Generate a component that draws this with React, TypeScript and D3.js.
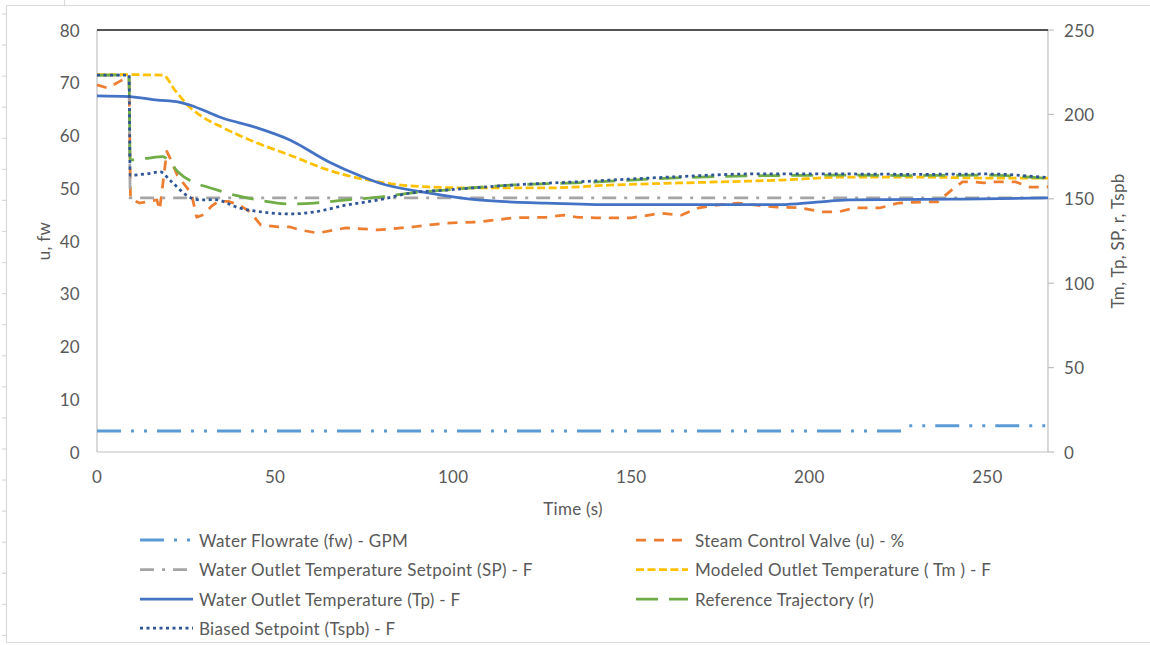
import React from "react";
import * as d3 from "d3";

// Time axis ticks and the two value axes
const X_TICKS = [0, 50, 100, 150, 200, 250];
const LEFT_TICKS = [0, 10, 20, 30, 40, 50, 60, 70, 80];
const RIGHT_TICKS = [0, 50, 100, 150, 200, 250];

// Water flowrate (left axis)
const FW_T = [0, 226, 228, 267];
const FW = [4, 4, 5, 5];

// Steam control valve, % (left axis)
const U_T = [0, 3, 7, 9, 9.4, 12, 16.8, 17.6, 19.6, 21, 22.5, 26.5, 28, 30, 32, 34, 37, 40, 43, 46, 51, 54, 57, 62, 70, 79, 89, 98, 107, 117, 126, 131, 135, 140, 150, 155, 158, 164, 169, 174, 180, 185, 191, 197, 204, 208, 213, 220, 225, 232, 236, 240, 243, 246, 249, 251, 254, 258, 262, 265, 267];
const U = [69.6, 69, 70.5, 71, 48, 47.2, 47.8, 45.9, 57, 55, 52.5, 49, 44.5, 45, 46.5, 47.5, 47.5, 46.8, 45.5, 43, 42.7, 42.7, 42.1, 41.5, 42.5, 42.1, 42.7, 43.4, 43.6, 44.4, 44.5, 44.9, 44.5, 44.4, 44.4, 44.9, 45.3, 44.9, 46.3, 46.8, 47.2, 46.8, 46.4, 46.3, 45.5, 45.5, 46.3, 46.3, 47.2, 47.4, 47.4, 49.7, 51.2, 51.2, 51, 51.2, 51.2, 51.2, 50.2, 50.2, 50.3];

// Water outlet temperature setpoint (right axis)
const SP_T = [0, 9, 9.3, 267];
const SP = [223.3, 223.3, 150.5, 150.5];

// Modeled outlet temperature (right axis)
const TM_T = [0, 10, 18.5, 22, 26, 30, 35, 40, 45, 54, 65, 79, 93, 107, 126, 145, 164, 192, 211, 230, 250, 267];
const TM = [223.5, 223.5, 223.3, 214, 204.4, 198, 192.5, 187.5, 183, 176, 167, 160, 157, 156.4, 156.4, 158.2, 159.4, 161.1, 162.9, 162.9, 162.3, 162.3];

// Water outlet temperature (right axis)
const TP_T = [0, 9, 17, 23, 26, 35, 45, 54, 65, 74, 79, 93, 107, 126, 145, 164, 192, 202, 211, 240, 267];
const TP = [211, 210.5, 208.5, 207.3, 205.6, 198, 192, 185, 172, 163.5, 159.5, 153.5, 149.3, 147.5, 146.5, 146.5, 146.5, 148, 149.3, 149.8, 150.5];

// Reference trajectory (right axis)
const R_T = [0, 9, 9.3, 14, 18.5, 20, 22.7, 28, 31, 39, 46, 54, 61, 70, 79, 88, 98, 117, 136, 164, 192, 211, 230, 250, 267];
const R = [223.3, 223.3, 173, 174, 175, 173, 166, 159, 157, 152, 149, 147, 147.5, 149.3, 151, 153.4, 155.2, 158.2, 159.6, 162.5, 163.8, 164, 163.8, 164, 162];

// Biased setpoint (right axis)
const SB_T = [0, 9, 9.3, 14, 17.8, 20.5, 26, 29, 33, 40, 47, 54, 61, 70, 79, 88, 98, 117, 136, 164, 183, 211, 230, 250, 267];
const SB = [223.3, 223.3, 164, 164.8, 165.9, 161, 151, 149.3, 149.5, 144.5, 142, 141, 142.2, 146.3, 149.3, 153.4, 155.2, 158.2, 160.2, 163.2, 164.7, 164.7, 164.5, 164.7, 162.5];

const LEGEND_LABELS = [
  "Water Flowrate (fw) - GPM",
  "Steam Control Valve (u) - %",
  "Water Outlet Temperature Setpoint (SP) - F",
  "Modeled Outlet Temperature ( Tm ) - F",
  "Water Outlet Temperature (Tp) - F",
  "Reference Trajectory (r)",
  "Biased Setpoint (Tspb) - F",
];

const W = 1150;
const H = 645;
const M = { left: 97, right: 1048, top: 30, bottom: 452 };
const FONT = "Lato, 'Open Sans', sans-serif";
const TEXT = "#595959";
const FS = 17;
const LS = 0.3;

type Series = {
  t: number[];
  v: number[];
  axis: "left" | "right";
  color: string;
  width: number;
  dash: string;
  smooth: boolean;
};

const SERIES: Series[] = [
  { t: FW_T, v: FW, axis: "left", color: "#5B9BD5", width: 3, dash: "24 10 3 10 3 10", smooth: false },
  { t: U_T, v: U, axis: "left", color: "#ED7D31", width: 2.75, dash: "10 8", smooth: false },
  { t: SP_T, v: SP, axis: "right", color: "#A5A5A5", width: 2.75, dash: "14 8 3 8", smooth: false },
  { t: TM_T, v: TM, axis: "right", color: "#FFC000", width: 2.75, dash: "8 3.5", smooth: true },
  { t: TP_T, v: TP, axis: "right", color: "#4472C4", width: 2.75, dash: "", smooth: true },
  { t: R_T, v: R, axis: "right", color: "#70AD47", width: 2.75, dash: "22 11", smooth: true },
  { t: SB_T, v: SB, axis: "right", color: "#2F5597", width: 2.75, dash: "3 3.5", smooth: true },
];

export default function App() {
  const x = d3.scaleLinear().domain([0, 267]).range([M.left, M.right]);
  const yL = d3.scaleLinear().domain([0, 80]).range([M.bottom, M.top]);
  const yR = d3.scaleLinear().domain([0, 250]).range([M.bottom, M.top]);

  const paths = SERIES.map((s) => {
    const y = s.axis === "left" ? yL : yR;
    const gen = d3
      .line<number>()
      .x((_, i) => x(s.t[i]))
      .y((d) => y(d))
      .curve(s.smooth ? d3.curveMonotoneX : d3.curveLinear);
    return gen(s.v) || "";
  });

  // legend: two columns, filled row by row
  const legendRowY = [540, 569.5, 599, 628];
  const legendCols = [
    { x0: 140, x1: 193, tx: 199 },
    { x0: 636, x1: 688, tx: 695 },
  ];

  const frameTicks = d3.range(14, H, 31.07);

  return (
    <svg
      width={W}
      height={H}
      style={{ position: "absolute", left: 0, top: 0, background: "#fff" }}
      fontFamily={FONT}
      letterSpacing={LS}
    >
      <rect x={0} y={0} width={W} height={H} fill="#fff" />
      {/* outer sheet frame */}
      <g stroke="#D9D9D9" strokeWidth={1.2} fill="none">
        <line x1={6.5} y1={5} x2={6.5} y2={643} />
        <line x1={6} y1={5.5} x2={W} y2={5.5} />
        <line x1={6} y1={642.5} x2={W} y2={642.5} />
        <line x1={64.5} y1={0} x2={64.5} y2={5} />
        {frameTicks.map((ty, i) => (
          <line key={i} x1={2} y1={ty} x2={6} y2={ty} />
        ))}
      </g>

      {/* axes */}
      <line x1={M.left} y1={M.top} x2={M.left} y2={M.bottom} stroke="#BFBFBF" strokeWidth={1.2} />
      <line x1={M.left} y1={M.bottom} x2={M.right} y2={M.bottom} stroke="#BFBFBF" strokeWidth={1.2} />
      <line x1={M.right} y1={M.top} x2={M.right} y2={M.bottom} stroke="#BFBFBF" strokeWidth={1.2} />
      {RIGHT_TICKS.map((v) => (
        <line key={v} x1={M.right} x2={M.right + 6} y1={yR(v)} y2={yR(v)} stroke="#BFBFBF" strokeWidth={1.2} />
      ))}
      <line x1={M.left} y1={M.top} x2={M.right} y2={M.top} stroke="#1a1a1a" strokeWidth={1.5} />

      {/* tick labels */}
      <g fill={TEXT} fontSize={FS}>
        {LEFT_TICKS.map((v) => (
          <text key={v} x={80} y={yL(v)} textAnchor="end" dominantBaseline="central">
            {v}
          </text>
        ))}
        {RIGHT_TICKS.map((v) => (
          <text key={v} x={1064} y={yR(v)} textAnchor="start" dominantBaseline="central">
            {v}
          </text>
        ))}
        {X_TICKS.map((v) => (
          <text key={v} x={x(v)} y={476} textAnchor="middle" dominantBaseline="central">
            {v}
          </text>
        ))}
      </g>

      {/* axis titles */}
      <g fill={TEXT} fontSize={FS}>
        <text x={573} y={508} textAnchor="middle" dominantBaseline="central">
          Time (s)
        </text>
        <text transform="translate(43,241) rotate(-90)" textAnchor="middle" dominantBaseline="central">
          u, fw
        </text>
        <text transform="translate(1117,241) rotate(-90)" textAnchor="middle" dominantBaseline="central">
          Tm, Tp, SP, r, Tspb
        </text>
      </g>

      {/* series */}
      <g fill="none" strokeLinejoin="round">
        {SERIES.map((s, i) => (
          <path
            key={i}
            d={paths[i]}
            stroke={s.color}
            strokeWidth={s.width}
            strokeDasharray={s.dash || undefined}
          />
        ))}
      </g>

      {/* legend */}
      <g>
        {SERIES.map((s, i) => {
          const col = legendCols[i % 2];
          const yy = legendRowY[Math.floor(i / 2)];
          return (
            <g key={i}>
              <line
                x1={col.x0}
                x2={col.x1}
                y1={yy}
                y2={yy}
                stroke={s.color}
                strokeWidth={s.width}
                strokeDasharray={s.dash || undefined}
              />
              <text x={col.tx} y={yy} fill={TEXT} fontSize={FS} dominantBaseline="central">
                {LEGEND_LABELS[i]}
              </text>
            </g>
          );
        })}
      </g>
    </svg>
  );
}
